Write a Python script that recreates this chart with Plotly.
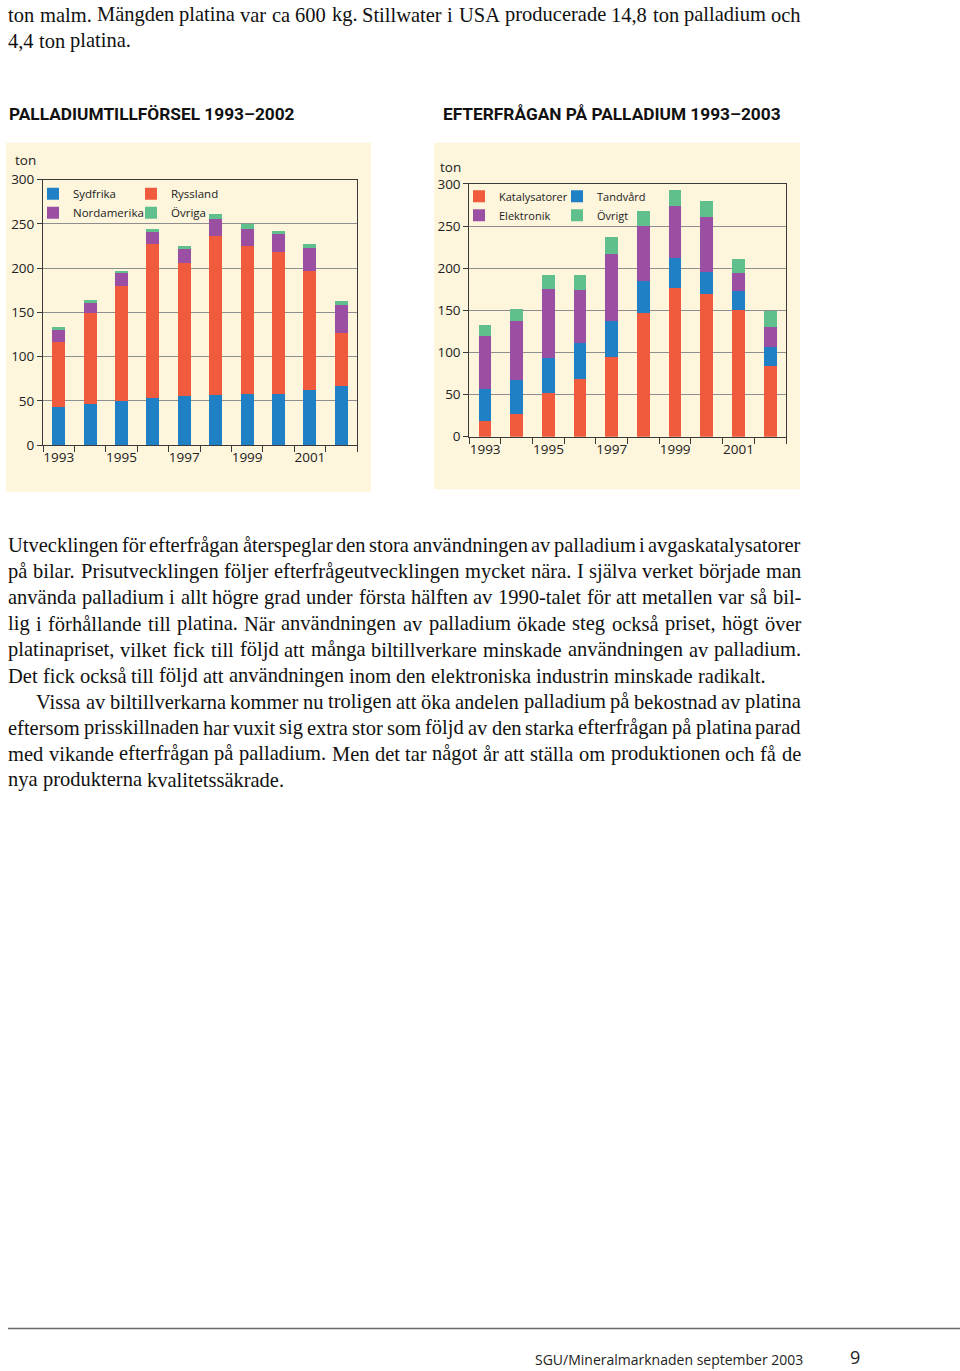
import plotly.graph_objects as go

W, H = 960, 1371

# ---------------- data ----------------
years = [1993, 1994, 1995, 1996, 1997, 1998, 1999, 2000, 2001, 2002]
tick_years = [1993, 1995, 1997, 1999, 2001]
tick_year_labels = ["1993", "1995", "1997", "1999", "2001"]
y_ticks = [0, 50, 100, 150, 200, 250, 300]
y_tick_labels = ["0", "50", "100", "150", "200", "250", "300"]

supply_names = ["Sydfrika", "Ryssland", "Nordamerika", "Övriga"]
supply_sydfrika = [43, 46, 50, 53, 56, 57, 58, 57.5, 62, 67]
supply_ryssland = [74, 103, 130, 174, 150, 179, 167, 161, 135, 60]
supply_nordamerika = [13, 12, 14, 14, 16, 20, 19, 20, 26, 31]
supply_ovriga = [3, 3, 3, 3, 3, 5, 6, 3, 4, 5]

demand_names = ["Katalysatorer", "Tandvård", "Elektronik", "Övrigt"]
demand_katalysatorer = [19, 27, 52, 69, 95, 147, 177, 169, 150, 84]
demand_tandvard = [38, 40, 41, 42, 42, 38, 35, 26, 23, 23]
demand_elektronik = [62, 70, 82, 63, 80, 65, 62, 66, 21, 23]
demand_ovrigt = [14, 15, 17, 18, 20, 18, 19, 19, 17, 19]

title_left = "PALLADIUMTILLFÖRSEL 1993–2002"
title_right = "EFTERFRÅGAN PÅ PALLADIUM 1993–2003"
unit_label = "ton"

top_lines = [
    "ton malm. Mängden platina var ca 600 kg. Stillwater i USA producerade 14,8 ton palladium och",
    "4,4 ton platina.",
]
top_justify = [True, False]

body_lines = [
    "Utvecklingen för efterfrågan återspeglar den stora användningen av palladium i avgaskatalysatorer",
    "på bilar. Prisutvecklingen följer efterfrågeutvecklingen mycket nära. I själva verket började man",
    "använda palladium i allt högre grad under första hälften av 1990-talet för att metallen var så bil-",
    "lig i förhållande till platina. När användningen av palladium ökade steg också priset, högt över",
    "platinapriset, vilket fick till följd att många biltillverkare minskade användningen av palladium.",
    "Det fick också till följd att användningen inom den elektroniska industrin minskade radikalt.",
    "Vissa av biltillverkarna kommer nu troligen att öka andelen palladium på bekostnad av platina",
    "eftersom prisskillnaden har vuxit sig extra stor som följd av den starka efterfrågan på platina parad",
    "med vikande efterfrågan på palladium. Men det tar något år att ställa om produktionen och få de",
    "nya produkterna kvalitetssäkrade.",
]
body_justify = [True, True, True, True, True, False, True, True, True, False]
body_indent = [False, False, False, False, False, False, True, False, False, False]

footer_text = "SGU/Mineralmarknaden september 2003"
page_number = "9"

# ---------------- styles ----------------
BLUE = "#1f80c6"
RED = "#f05a3d"
PURPLE = "#9a4fa2"
GREEN = "#5fbf8d"
CREAM = "#fdf5dc"
AXIS = "#3a3a3a"
GRID = "#8e8e8e"
SANS = "Open Sans"
SERIF = "Liberation Serif"

# vertical calibration of the photographed page (measured from a test render)
V_OFF, V_SCALE = 8.2, 0.9878


def px(x):
    return x / W


def fig_y(y):
    """target page pixel -> figure pixel"""
    return (y - V_OFF) / V_SCALE


def py(y):
    return 1 - fig_y(y) / H


# Times / Liberation Serif advance widths (1/1000 em)
TW = {}
for ch, w in zip("abcdefghijklmnopqrstuvwxyz",
                 [444, 500, 444, 500, 444, 333, 500, 500, 278, 278, 500, 278, 778,
                  500, 500, 500, 500, 333, 389, 278, 500, 500, 722, 500, 500, 444]):
    TW[ch] = w
for ch, w in zip("ABCDEFGHIJKLMNOPQRSTUVWXYZ",
                 [722, 667, 667, 722, 611, 556, 722, 722, 333, 389, 722, 611, 889,
                  722, 722, 556, 722, 667, 556, 611, 722, 722, 944, 722, 722, 611]):
    TW[ch] = w
for ch in "0123456789":
    TW[ch] = 500
TW.update({" ": 250, ".": 250, ",": 250, "-": 333, "–": 500, "å": 444, "ä": 444,
           "ö": 500, "é": 444, "Å": 722, "Ä": 722, "Ö": 722})


def em_width(s):
    return sum(TW.get(c, 500) for c in s) / 1000.0


LEFT_X, RIGHT_X, MIN_GAP = 8.0, 801.0, 3.5

all_lines = list(zip(top_lines, top_justify, [False] * len(top_lines))) + \
    list(zip(body_lines, body_justify, body_indent))
sizes = [767.0 / em_width(body_lines[5])]
for text, just, ind in all_lines:
    if just:
        words = text.split(" ")
        start = LEFT_X + (28 if ind else 0)
        sizes.append((RIGHT_X - start - MIN_GAP * (len(words) - 1)) /
                     sum(em_width(w) for w in words))
TEXT_SIZE = min(sizes)

annotations = []


def add_line(text, ycenter, justify, indent):
    words = text.split(" ")
    start = LEFT_X + (28 if indent else 0)
    widths = [em_width(w) * TEXT_SIZE for w in words]
    if justify and len(words) > 1:
        gap = (RIGHT_X - start - sum(widths)) / (len(words) - 1)
    else:
        gap = TW[" "] / 1000.0 * TEXT_SIZE
    x = start
    for w, ww in zip(words, widths):
        annotations.append(dict(
            text=w, x=px(x), y=py(ycenter), xref="paper", yref="paper",
            xanchor="left", yanchor="middle", showarrow=False,
            borderpad=0, borderwidth=0,
            font=dict(family=SERIF, size=TEXT_SIZE, color="#111111")))
        x += ww + gap


for i, (t, j) in enumerate(zip(top_lines, top_justify)):
    add_line(t, 14.0 + 26.1 * i, j, False)
for i, (t, j, ind) in enumerate(zip(body_lines, body_justify, body_indent)):
    add_line(t, 545.0 + 26.1 * i, j, ind)

# titles
for t, x in [(title_left, 8), (title_right, 442)]:
    annotations.append(dict(
        text="<b>%s</b>" % t, x=px(x), y=py(113), xref="paper", yref="paper",
        xanchor="left", yanchor="middle", showarrow=False, borderpad=0,
        font=dict(family="Roboto", size=17.3, color="#111111")))

# unit labels
for x, y in [(14, 159), (439, 166)]:
    annotations.append(dict(
        text=unit_label, x=px(x), y=py(y), xref="paper", yref="paper",
        xanchor="left", yanchor="middle", showarrow=False, borderpad=0,
        font=dict(family=SANS, size=13.5, color="#222222")))

# footer
annotations.append(dict(
    text=footer_text, x=px(534), y=py(1360), xref="paper", yref="paper",
    xanchor="left", yanchor="middle", showarrow=False, borderpad=0,
    font=dict(family=SANS, size=14, color="#222222")))
annotations.append(dict(
    text=page_number, x=px(849), y=py(1357), xref="paper", yref="paper",
    xanchor="left", yanchor="middle", showarrow=False, borderpad=0,
    font=dict(family=SANS, size=18, color="#222222")))

shapes = [
    dict(type="rect", xref="paper", yref="paper", x0=px(6), x1=px(371),
         y0=py(491.5), y1=py(142), fillcolor=CREAM, line_width=0, layer="below"),
    dict(type="rect", xref="paper", yref="paper", x0=px(434), x1=px(800),
         y0=py(489), y1=py(142), fillcolor=CREAM, line_width=0, layer="below"),
    dict(type="line", xref="paper", yref="paper", x0=px(8), x1=1.0,
         y0=py(1329), y1=py(1329), line=dict(color="#6a6a6a", width=1.5)),
]

# ---------------- figure ----------------
fig = go.Figure()

supply_series = [supply_sydfrika, supply_ryssland, supply_nordamerika, supply_ovriga]
supply_colors = [BLUE, RED, PURPLE, GREEN]
supply_legends = ["legend", "legend2", "legend", "legend2"]
for name, vals, col, lg in zip(supply_names, supply_series, supply_colors, supply_legends):
    fig.add_trace(go.Bar(x=years, y=vals, name=name, marker_color=col,
                         marker_line_width=0, width=0.42, xaxis="x", yaxis="y",
                         legend=lg, hoverinfo="x+y+name"))

demand_series = [demand_katalysatorer, demand_tandvard, demand_elektronik, demand_ovrigt]
demand_colors = [RED, BLUE, PURPLE, GREEN]
demand_legends = ["legend3", "legend4", "legend3", "legend4"]
for name, vals, col, lg in zip(demand_names, demand_series, demand_colors, demand_legends):
    fig.add_trace(go.Bar(x=years, y=vals, name=name, marker_color=col,
                         marker_line_width=0, width=0.40, xaxis="x2", yaxis="y2",
                         legend=lg, hoverinfo="x+y+name"))

boundaries = [y - 0.5 for y in years] + [years[-1] + 0.5]


def xaxis_cfg(domain, anchor):
    return dict(domain=domain, anchor=anchor, range=[years[0] - 0.5, years[-1] + 0.5],
                tickmode="array", tickvals=tick_years, ticktext=tick_year_labels,
                ticks="", showline=True, linecolor=AXIS, linewidth=1, mirror=True,
                showgrid=False, zeroline=False, fixedrange=True,
                tickfont=dict(family=SANS, size=13.5, color="#222222"),
                minor=dict(tickmode="array", tickvals=boundaries, ticks="outside",
                           ticklen=6, tickwidth=1, tickcolor=AXIS, showgrid=False))


def yaxis_cfg(domain, anchor):
    return dict(domain=domain, anchor=anchor, range=[0, 300], tickmode="array",
                tickvals=y_ticks, ticktext=y_tick_labels, ticks="outside", ticklen=5,
                tickwidth=1, tickcolor=AXIS, showline=True, linecolor=AXIS,
                linewidth=1, mirror=True, showgrid=True, gridcolor=GRID, gridwidth=1,
                zeroline=False, fixedrange=True,
                tickfont=dict(family=SANS, size=13.5, color="#222222"))


def legend_cfg(x, first_row_y, size):
    top = fig_y(first_row_y) - 15
    return dict(x=px(x), y=1 - top / H, xanchor="left", yanchor="top", orientation="v",
                traceorder="normal", bgcolor="rgba(0,0,0,0)", borderwidth=0,
                font=dict(family=SANS, size=size, color="#222222"),
                itemclick=False, itemdoubleclick=False)


fig.update_layout(
    width=W, height=H, margin=dict(l=0, r=0, t=0, b=0),
    paper_bgcolor="white", plot_bgcolor="white", barmode="stack",
    showlegend=True,
    xaxis=xaxis_cfg([px(43), px(357)], "y"),
    yaxis=yaxis_cfg([py(444.7), py(179)], "x"),
    xaxis2=xaxis_cfg([px(469.3), px(786)], "y2"),
    yaxis2=yaxis_cfg([py(436.3), py(183.3)], "x2"),
    legend=legend_cfg(33, 193.5, 11.5),
    legend2=legend_cfg(131, 193.5, 11.5),
    legend3=legend_cfg(459, 196, 11),
    legend4=legend_cfg(557, 196, 11),
    annotations=annotations,
    shapes=shapes,
)

fig.write_html(
    "out.html",
    config={"displayModeBar": False},
    post_script="document.body.style.margin='0';document.body.style.overflow='hidden';",
)
